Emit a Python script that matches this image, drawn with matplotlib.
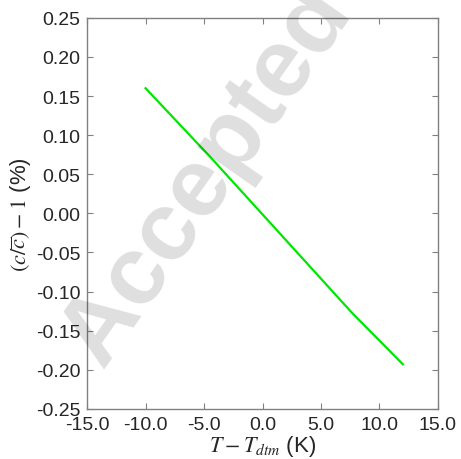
import numpy as np
import matplotlib
matplotlib.use("Agg")
import matplotlib.pyplot as plt

plt.rcParams['font.family'] = ['Liberation Sans', 'DejaVu Sans']
plt.rcParams['mathtext.fontset'] = 'stix'

# temperature offset from T_dtm (K) and relative change in c (%)
dT = [-10.0, -4.4, 7.7, 12.0]
dc = [0.160, 0.071, -0.128, -0.193]

xticks = [-15.0, -10.0, -5.0, 0.0, 5.0, 10.0, 15.0]
yticks = [-0.25, -0.20, -0.15, -0.10, -0.05, 0.00, 0.05, 0.10, 0.15, 0.20, 0.25]

fig = plt.figure(figsize=(4.61, 4.60), dpi=100)
ax = fig.add_axes([0.189, 0.109, 0.761, 0.850])

ax.plot(dT, dc, color='#00e600', lw=1.6, zorder=3)

ax.set_xlim(-15, 15)
ax.set_ylim(-0.25, 0.25)
ax.set_xticks(xticks)
ax.set_xticklabels([f"{v:.1f}" for v in xticks])
ax.set_yticks(yticks)
ax.set_yticklabels([f"{v:.2f}" for v in yticks])

for s in ax.spines.values():
    s.set_color('#808080')
    s.set_linewidth(1.0)
ax.tick_params(direction='in', top=True, right=True, length=4, width=0.8,
               color='#808080', labelsize=14, labelcolor='#262626')
ax.tick_params(axis='x', pad=5)
ax.tick_params(axis='y', pad=5)

ax.set_xlabel(r"$T - T_{dtm}$ (K)", fontsize=16, color='#262626', labelpad=0)
ax.set_ylabel(r"$(c/\overline{c}) - 1$ (%)", fontsize=16, color='#262626', labelpad=2)

# light diagonal stamp across the plot
fig.text(0.222, 0.196, "Accepted", rotation=55, rotation_mode='anchor',
         ha='left', va='baseline', fontsize=70, fontweight='bold',
         color='#000000', alpha=0.13, zorder=1)

fig.savefig("out.png", dpi=100)
